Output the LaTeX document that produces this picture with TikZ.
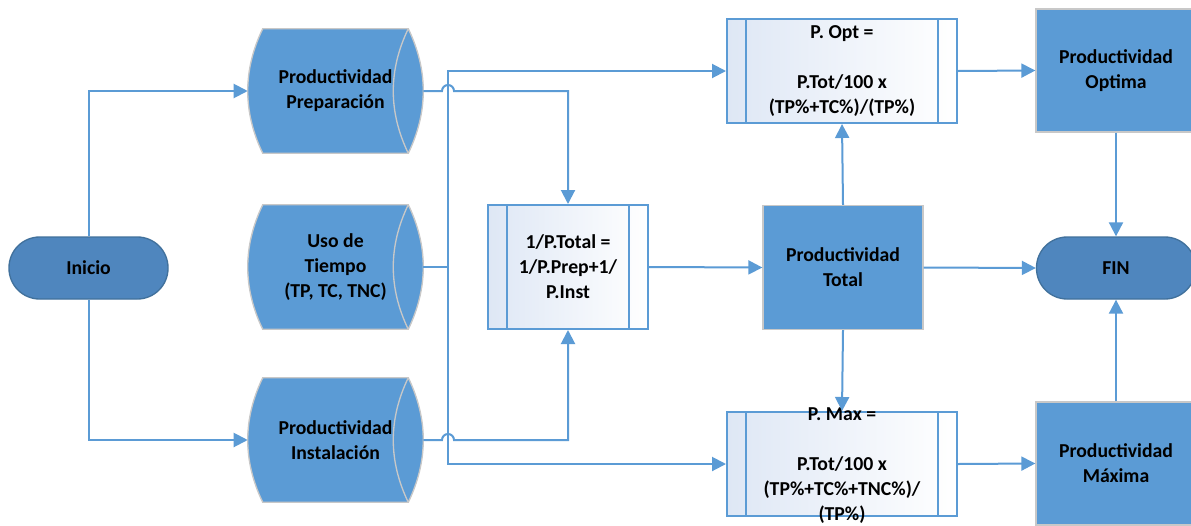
\documentclass[tikz,border=0pt]{standalone}
\usepackage{fontspec}
\setmainfont{Carlito}
\usetikzlibrary{arrows.meta}
\definecolor{mblue}{HTML}{5B9BD5}
\definecolor{tfill}{RGB}{79,134,190}
\definecolor{tline}{RGB}{65,113,156}
\definecolor{gline}{RGB}{200,200,200}
\definecolor{pfill}{RGB}{222,231,245}
\pgfdeclarelayer{bg}
\pgfsetlayers{bg,main}
\newcommand\sdshape[1]{%
  \fill[mblue,draw=gline,line width=1pt]
    ([xshift=11.25pt]#1.north west) -- ([xshift=-11.25pt]#1.north east)
    .. controls ([xshift=3.75pt,yshift=-31pt]#1.north east) and ([xshift=3.75pt,yshift=31pt]#1.south east) .. ([xshift=-11.25pt]#1.south east)
    -- ([xshift=11.25pt]#1.south west)
    .. controls ([xshift=-3.75pt,yshift=31pt]#1.south west) and ([xshift=-3.75pt,yshift=-31pt]#1.north west) .. cycle;
  \draw[gline,line width=1pt] ([xshift=-11.25pt]#1.north east)
    .. controls ([xshift=-26.25pt,yshift=-31pt]#1.north east) and ([xshift=-26.25pt,yshift=31pt]#1.south east) .. ([xshift=-11.25pt]#1.south east);}
\newcommand\pdlines[1]{%
  \draw[mblue,line width=1.2pt] ([xshift=15pt]#1.north west) -- ([xshift=15pt]#1.south west);
  \draw[mblue,line width=1.2pt] ([xshift=-15pt]#1.north east) -- ([xshift=-15pt]#1.south east);}
\begin{document}
\begin{tikzpicture}[x=0.75pt,y=-0.75pt,
  font=\bfseries\fontsize{14.8}{18.75}\selectfont,
  every node/.style={align=center, text=black},
  conn/.style={draw=mblue, line width=1.5pt},
  arr/.style={conn, -{Triangle[length=10.5pt,width=10.5pt]}},
  term/.style={rectangle, rounded corners=23pt, fill=tfill, draw=tline, line width=1pt,
    minimum width=119.25pt, minimum height=46.5pt, inner sep=0pt},
  sdbox/.style={rectangle, minimum width=131.25pt, minimum height=93pt, inner sep=0pt},
  procbox/.style={rectangle, draw=mblue, line width=1.5pt, left color=pfill, right color=white,
    inner sep=0pt},
  bluebox/.style={rectangle, fill=mblue, draw=gline, line width=1pt,
    minimum width=120pt, minimum height=92.25pt, inner sep=0pt},
  txt/.style={inner sep=0pt}]
\clip (0,0) rectangle (1191,525);

% terminals
\node[term] (inicio) at (88.5,268) {Inicio};
\node[term] (fin) at (1116,268) {FIN};

% stored data
\node[sdbox] (prep) at (335.5,91) {Productividad\\Preparación};
\node[sdbox] (uso) at (335.5,267) {Uso de\\Tiempo\\(TP, TC, TNC)};
\node[sdbox] (inst) at (335.5,440) {Productividad\\Instalación};
\begin{pgfonlayer}{bg}
\fill[white] (0,0) rectangle (1191,525);
\sdshape{prep}
\sdshape{uso}
\sdshape{inst}
\end{pgfonlayer}

% process boxes
\node[procbox, minimum width=120pt, minimum height=93pt] (ptot) at (568,267) {};
\pdlines{ptot}
\node[txt] at (ptot.center) {1/P.Total =\\1/P.Prep+1/\\P.Inst};

\node[procbox, minimum width=172.5pt, minimum height=78pt] (popt) at (842,71) {};
\pdlines{popt}
\node[txt] at (popt.center) {P. Opt =\\[18.75pt]P.Tot/100 x\\(TP\%+TC\%)/(TP\%)};

\node[procbox, minimum width=172.5pt, minimum height=78pt] (pmax) at (842,464) {};
\pdlines{pmax}
\node[txt] at ([yshift=-1.5pt]pmax.center) {P. Max =\\[18.75pt]P.Tot/100 x\\(TP\%+TC\%+TNC\%)/\\(TP\%)};

% blue boxes
\node[bluebox, minimum height=93pt] (total) at (843,267.5) {Productividad\\Total};
\node[bluebox] (optima) at (1116,70.5) {Productividad\\Optima};
\node[bluebox] (maxima) at (1116,463.5) {Productividad\\Máxima};

% connectors
\draw[arr] (inicio.north) |- (prep.west);
\draw[arr] (inicio.south) |- (inst.west);

\draw[arr] (prep.east) -- (442,91) arc[start angle=180,end angle=0,radius=4.5pt] -| (ptot.north);
\draw[arr] (inst.east) -- (442,440) arc[start angle=180,end angle=0,radius=4.5pt] -| (ptot.south);

\coordinate (J) at (448,267);
\draw[conn] (uso.east) -- (J);
\draw[arr] (J) |- (popt.west);
\draw[arr] (J) |- (pmax.west);

\draw[arr] (ptot.east) -- (total.west);
\draw[arr] (total.north) -- (popt.south);
\draw[arr] (total.south) -- (pmax.north);
\draw[arr] (total.east) -- (fin.west);
\draw[arr] (popt.east) -- (optima.west);
\draw[arr] (pmax.east) -- (maxima.west);
\draw[arr] (optima.south) -- (fin.north);
\draw[arr] (maxima.north) -- (fin.south);
\end{tikzpicture}
\end{document}
